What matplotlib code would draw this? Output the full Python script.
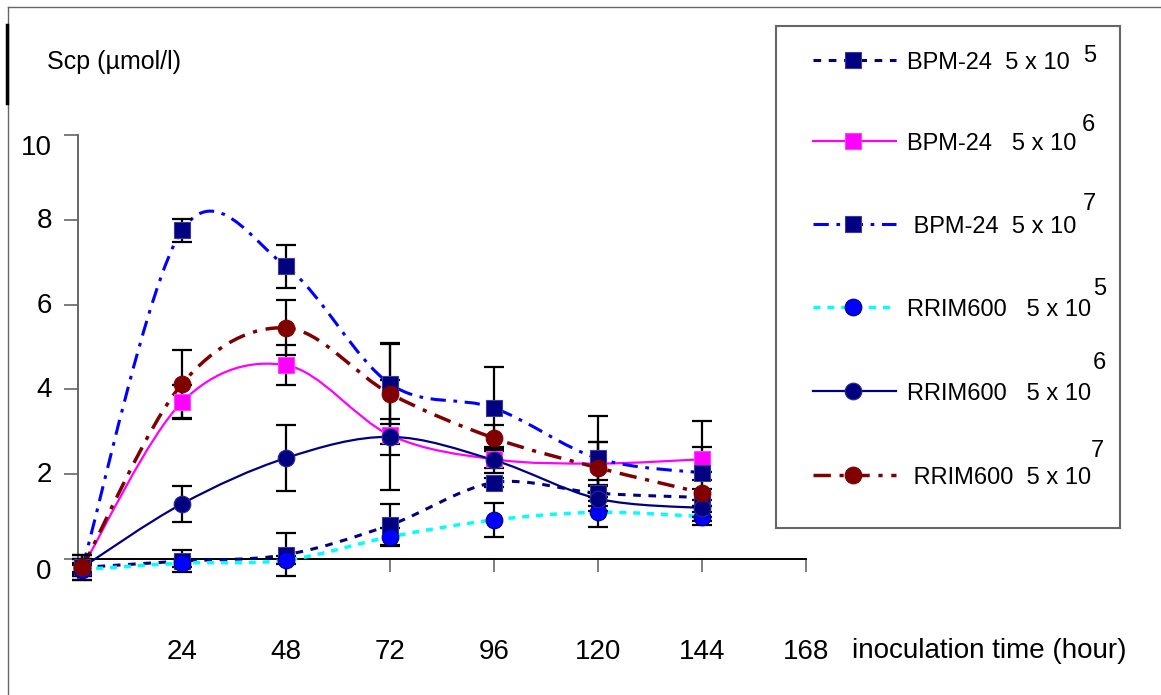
import matplotlib
matplotlib.use("Agg")
import matplotlib.pyplot as plt
import numpy as np
from matplotlib.path import Path
from matplotlib.patches import PathPatch
from matplotlib.lines import Line2D
from matplotlib.transforms import offset_copy

plt.rcParams['font.family'] = ['Liberation Sans', 'DejaVu Sans']

# sampling times (hours) and measured Scp (umol/l)
hours = [1, 24, 48, 72, 96, 120, 144]
bpm_5e5 = [-0.2, -0.05, 0.1, 0.8, 1.8, 1.55, 1.45]
bpm_5e6 = [-0.2, 3.7, 4.57, 2.92, 2.35, 2.25, 2.35]
bpm_5e7 = [-0.2, 7.75, 6.9, 4.13, 3.56, 2.37, 2.03]
rrim_5e5 = [-0.25, -0.1, -0.03, 0.52, 0.92, 1.1, 1.0]
rrim_5e6 = [-0.2, 1.3, 2.38, 2.88, 2.33, 1.42, 1.2]
rrim_5e7 = [-0.2, 4.13, 5.45, 3.9, 2.85, 2.15, 1.56]

bpm_5e5_err = [0.3, 0.25, 0.5, 0.5, 0.1, 0.3, 0.2]
bpm_5e6_err = [0.2, 0.4, 0.47, 1.3, 0.2, 0.5, 0.3]
bpm_5e7_err = [0.2, 0.28, 0.5, 0.95, 0.97, 1.0, 1.22]
rrim_5e5_err = [0.1, 0.1, 0.1, 0.2, 0.4, 0.35, 0.1]
rrim_5e6_err = [0.1, 0.43, 0.77, 0.42, 0.3, 0.3, 0.2]
rrim_5e7_err = [0.3, 0.8, 0.65, 1.2, 0.3, 0.6, 0.3]

x_ticks = [24, 48, 72, 96, 120, 144, 168]
y_ticks = [0, 2, 4, 6, 8, 10]

series = [
    # values, errors, line colour, linestyle, lw, marker, face, edge, strain, exponent
    (bpm_5e5, bpm_5e5_err, '#000080', (0, (2.5, 2.5)), 2.2, 's', '#000080', '#3a3aa0', 'BPM-24  5 x 10', '5'),
    (bpm_5e6, bpm_5e6_err, '#FF00FF', '-', 1.6, 's', '#FF00FF', '#FF40FF', 'BPM-24   5 x 10', '6'),
    (bpm_5e7, bpm_5e7_err, '#0000FF', (0, (5, 2.5, 1.2, 2.5)), 2.2, 's', '#000080', '#3a3aa0', ' BPM-24  5 x 10', '7'),
    (rrim_5e5, rrim_5e5_err, '#00FFFF', (0, (2, 2)), 2.5, 'o', '#0000FF', '#000080', 'RRIM600   5 x 10', '5'),
    (rrim_5e6, rrim_5e6_err, '#000080', '-', 1.6, 'o', '#000080', '#2a2a90', 'RRIM600   5 x 10', '6'),
    (rrim_5e7, rrim_5e7_err, '#800000', (0, (5, 2.5, 1.2, 2.5)), 2.5, 'o', '#800000', '#800000', ' RRIM600  5 x 10', '7'),
]


def smooth_path(x, y):
    # Excel-like smoothed line: cubic Bezier through the points
    pts = np.column_stack([x, y]).astype(float)
    n = len(pts)
    verts = [pts[0]]
    codes = [Path.MOVETO]
    for i in range(n - 1):
        p0 = pts[max(i - 1, 0)]
        p1 = pts[i]
        p2 = pts[i + 1]
        p3 = pts[min(i + 2, n - 1)]
        verts += [p1 + (p2 - p0) / 6, p2 - (p3 - p1) / 6, p2]
        codes += [Path.CURVE4] * 3
    return Path(verts, codes)


W, H = 1161, 695
fig = plt.figure(figsize=(W / 100, H / 100), dpi=100)


def fx(px):
    return px / W


def fy(py):
    return 1 - py / H


ax = fig.add_axes([fx(78), fy(578), fx(806) - fx(78), fy(135) - fy(578)])
ax.set_xlim(0, 168)
ax.set_ylim(-0.45, 10)

for vals, errs, lc, ls, lw, mk, mf, me, name, sup in series:
    ax.add_patch(PathPatch(smooth_path(hours, vals), fill=False, edgecolor=lc,
                           lw=lw, linestyle=ls, clip_on=False, zorder=3))
    ax.errorbar(hours, vals, yerr=errs, fmt='none', ecolor='black', elinewidth=1.6,
                capsize=7, capthick=1.6, clip_on=False, zorder=4)
for vals, errs, lc, ls, lw, mk, mf, me, name, sup in series:
    ax.plot(hours, vals, linestyle='none', marker=mk, ms=11 if mk == 's' else 12,
            mfc=mf, mec=me, mew=0.8, clip_on=False, zorder=5)

# axes styling
for s in ['top', 'right']:
    ax.spines[s].set_visible(False)
ax.spines['bottom'].set_position(('data', 0))
ax.spines['bottom'].set_color('black')
ax.spines['bottom'].set_linewidth(1.4)
ax.spines['left'].set_color('#666666')
ax.spines['left'].set_linewidth(1.4)

ax.set_xticks(x_ticks)
ax.set_xticklabels([str(t) for t in x_ticks])
ax.tick_params(axis='x', direction='out', length=9, width=1.2, color='#666666',
               pad=49, labelsize=20)
ax.set_yticks(y_ticks)
ax.set_yticklabels([])
ax.tick_params(axis='y', direction='out', length=10, width=1.2, color='#666666')

# y tick labels (Excel pushes the end labels inside the axis range)
ytrans = ax.get_yaxis_transform()
for v in y_ticks:
    shift = -13 if v in (0, 10) else -1
    ax.text(-0.036, v, str(v), transform=offset_copy(ytrans, fig, y=shift, units='dots'),
            ha='right', va='center', fontsize=20)

fig.text(fx(852), fy(651), 'inoculation time (hour)', ha='left', va='center', fontsize=20)
fig.text(fx(47), fy(62), 'Scp (\u00b5mol/l)', ha='left', va='center', fontsize=18)

# legend box drawn in pixel coordinates
lx0, ly0, lx1, ly1 = 776, 26, 1120, 528
lax = fig.add_axes([fx(lx0), fy(ly1), fx(lx1) - fx(lx0), fy(ly0) - fy(ly1)])
lax.set_xlim(lx0, lx1)
lax.set_ylim(ly1, ly0)
lax.set_xticks([])
lax.set_yticks([])
for s in lax.spines.values():
    s.set_color('#666666')
    s.set_linewidth(1.5)

row_y = [60, 141, 224, 307, 391, 475]
text_x = [907, 907, 907, 907, 907, 907]
sup_pos = [(1083, 56), (1082, 125), (1083, 204), (1093, 289), (1093, 363), (1091, 451)]
for (vals, errs, lc, ls, lw, mk, mf, me, name, sup), ry, tx, (sx, sy) in zip(series, row_y, text_x, sup_pos):
    lax.add_line(Line2D([813, 896], [ry, ry], color=lc, lw=lw, linestyle=ls))
    lax.plot([853], [ry], marker=mk, ms=11 if mk == 's' else 12, mfc=mf, mec=me, mew=0.8)
    lax.text(tx, ry + 3, name, ha='left', va='center', fontsize=17)
    lax.text(sx, sy, sup, ha='left', va='center', fontsize=17)

# outer frame of the original figure
fig.add_artist(Line2D([fx(8), 1], [fy(7), fy(7)], transform=fig.transFigure, color='#666666', lw=1))
fig.add_artist(Line2D([fx(8), fx(8)], [0, fy(7)], transform=fig.transFigure, color='#666666', lw=1))
fig.add_artist(Line2D([fx(7), fx(7)], [fy(25), fy(103)], transform=fig.transFigure, color='black', lw=2.5))

fig.savefig('out.png', dpi=100)
